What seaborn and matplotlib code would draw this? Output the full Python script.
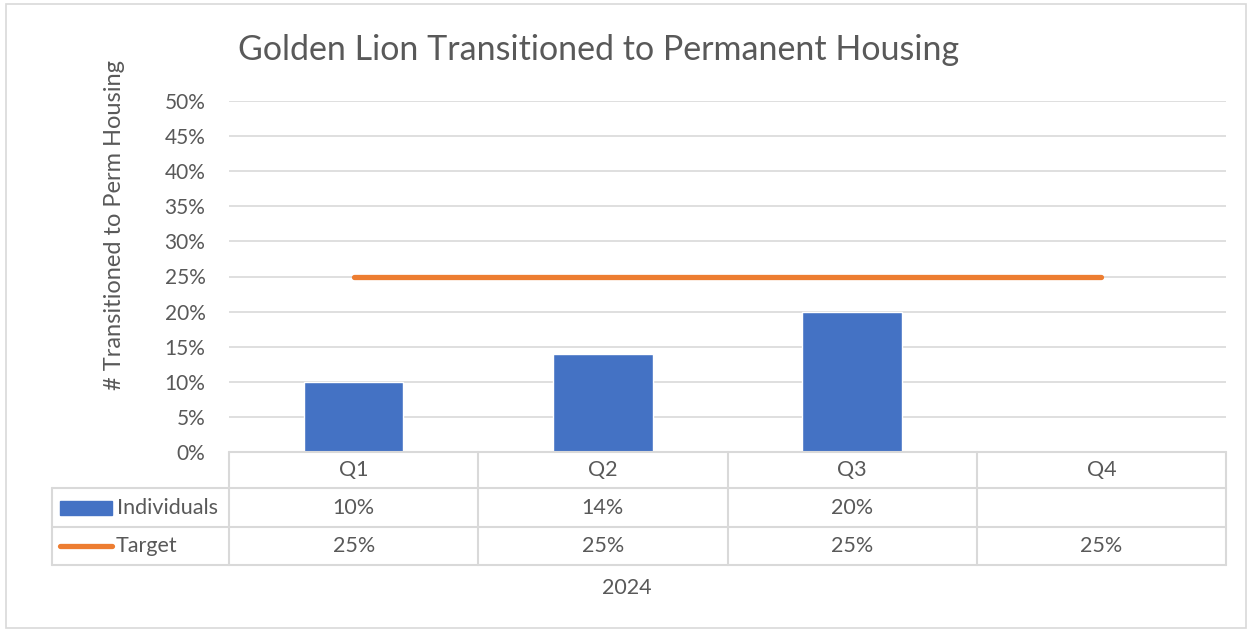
import numpy as np
import pandas as pd
import matplotlib
matplotlib.use("Agg")
import matplotlib.pyplot as plt
from matplotlib.lines import Line2D
from matplotlib.patches import Rectangle
from matplotlib.ticker import PercentFormatter
import seaborn as sns

# data
quarters = ["Q1", "Q2", "Q3", "Q4"]
individuals = [0.10, 0.14, 0.20, np.nan]
target = [0.25, 0.25, 0.25, 0.25]
year_label = "2024"

BLUE = "#4472C4"
ORANGE = "#ED7D31"
GRID = "#D9D9D9"
TXT = "#595959"
FS = 15.5

sns.set_theme(style="white")
plt.rcParams["font.family"] = ["Lato", "DejaVu Sans"]

W, H = 1253, 632
fig = plt.figure(figsize=(W / 100, H / 100), dpi=100)

def fx(px):
    return px / W

def fy(py):
    return 1 - py / H

# plot area in pixels
L, R, T, B = 229, 1226, 101, 452
ax = fig.add_axes([fx(L), fy(B), fx(R - L), fy(T) - fy(B)])

df = pd.DataFrame({"quarter": quarters, "value": individuals})
sns.barplot(data=df, x="quarter", y="value", order=quarters, color=BLUE,
            width=0.4, saturation=1, ax=ax, zorder=3)
sns.lineplot(x=np.arange(len(quarters)), y=target, color=ORANGE, linewidth=3.8,
             ax=ax, zorder=4, solid_capstyle="round")

ax.set_xlim(-0.5, len(quarters) - 0.5)
ax.set_ylim(0, 0.5)
ax.set_yticks(np.arange(0, 0.51, 0.05))
ax.yaxis.set_major_formatter(PercentFormatter(1.0, decimals=0))
ax.tick_params(axis="y", labelsize=15, labelcolor=TXT, length=0, pad=17)
ax.set_xticks([])
ax.set_xlabel("")
ax.set_ylabel("")
for s in ax.spines.values():
    s.set_visible(False)
ax.grid(axis="y", color=GRID, linewidth=1.2, zorder=0)
ax.set_axisbelow(True)

# title and y label
fig.text(fx(599), fy(50), "Golden Lion Transitioned to Permanent Housing",
         ha="center", va="center", fontsize=24.5, color=TXT)
fig.text(fx(115), fy(225), "# Transitioned to Perm Housing", rotation=90,
         ha="center", va="center", fontsize=17, color=TXT)

# data table below the axes
col_w = (R - L) / len(quarters)
rows_y = [452, 488, 527, 565]
tab_left = 52

def hline(x0, x1, y):
    fig.add_artist(Line2D([fx(x0), fx(x1)], [fy(y), fy(y)], color=GRID, lw=1.5))

def vline(x, y0, y1):
    fig.add_artist(Line2D([fx(x), fx(x)], [fy(y0), fy(y1)], color=GRID, lw=1.5))

hline(L, R, rows_y[0])
for y in rows_y[1:]:
    hline(tab_left, R, y)
vline(tab_left, rows_y[1], rows_y[3])
for i in range(len(quarters) + 1):
    vline(L + i * col_w, rows_y[0], rows_y[3])

def pct(v):
    return "" if np.isnan(v) else f"{v * 100:.0f}%"

for i, q in enumerate(quarters):
    cx = L + (i + 0.5) * col_w
    fig.text(fx(cx), fy((rows_y[0] + rows_y[1]) / 2), q, ha="center", va="center",
             fontsize=FS, color=TXT)
    fig.text(fx(cx), fy((rows_y[1] + rows_y[2]) / 2), pct(individuals[i]), ha="center",
             va="center", fontsize=FS, color=TXT)
    fig.text(fx(cx), fy((rows_y[2] + rows_y[3]) / 2), pct(target[i]), ha="center",
             va="center", fontsize=FS, color=TXT)

# legend keys inside the table
ym1 = (rows_y[1] + rows_y[2]) / 2
ym2 = (rows_y[2] + rows_y[3]) / 2
fig.add_artist(Rectangle((fx(60), fy(ym1 + 7)), fx(52), fy(ym1 - 7) - fy(ym1 + 7),
                         color=BLUE))
fig.add_artist(Line2D([fx(60), fx(112)], [fy(ym2), fy(ym2)], color=ORANGE, lw=3.8,
                      solid_capstyle="round"))
fig.text(fx(117), fy(ym1), "Individuals", ha="left", va="center", fontsize=FS, color=TXT)
fig.text(fx(116), fy(ym2), "Target", ha="left", va="center", fontsize=FS, color=TXT)

fig.text(fx(627), fy(588), year_label, ha="center", va="center", fontsize=FS, color=TXT)

# chart border
fig.add_artist(Rectangle((fx(6), fy(628)), fx(1246 - 6), fy(4) - fy(628), fill=False,
                         edgecolor=GRID, lw=1.2))

fig.savefig("out.png", dpi=100)
